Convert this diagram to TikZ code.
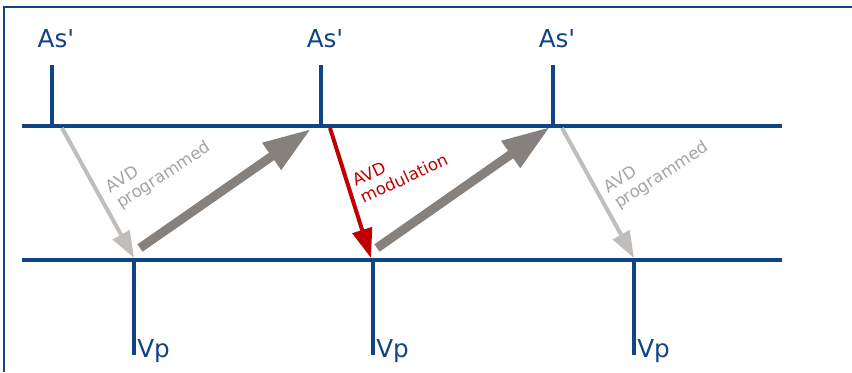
\documentclass[tikz,border=0pt]{standalone}
\usepackage{fontspec}
\setmainfont{DejaVu Sans}[Ligatures=TeXOff]
\usetikzlibrary{arrows.meta,positioning,calc}
\definecolor{lineblue}{RGB}{16,68,132}
\definecolor{progray}{RGB}{192,189,186}
\definecolor{condgray}{RGB}{134,129,125}
\definecolor{modred}{RGB}{192,0,0}
\definecolor{txtgray}{RGB}{166,164,162}

\begin{document}
\begin{tikzpicture}[x=0.75pt,y=-0.75pt,
  track/.style={draw=lineblue,line width=2.3pt},
  evt/.style={text=lineblue,inner sep=0pt,font=\fontsize{18.5}{20}\selectfont},
  prog/.style={draw=progray,line width=3pt,-{Triangle[length=20pt,width=14pt]}},
  cond/.style={draw=condgray,line width=6.75pt,-{Triangle[length=36pt,width=23pt]}},
  modu/.style={draw=modred,line width=3pt,-{Triangle[length=22pt,width=15pt]}},
  lbl/.style={align=left,inner sep=0pt,font=\fontsize{12.5}{14}\selectfont}]
  \useasboundingbox (0,0) rectangle (852,372);
  \draw[lineblue,line width=1.5pt] (852,6.5) -- (4,6.5) -- (4,372);
  % atrial and ventricular time lines
  \draw[track] (22,126) -- (782,126);
  \draw[track] (22,260) -- (782,260);
  \foreach \n/\x in {1/52,2/321,3/553} {
    \coordinate (as\n) at (\x,126);
    \draw[track] (as\n) -- ++(0,-61) coordinate (ast\n);
    \node[evt,above=12.5pt of ast\n,xshift=3pt] (asl\n) {As'};
  }
  \foreach \n/\x in {1/134,2/373,3/634} {
    \coordinate (vp\n) at (\x,260);
    \draw[track] (vp\n) -- ++(0,95) coordinate (vpb\n);
    \node[evt,anchor=base west] (vpl\n) at ($(vpb\n)+(3,2)$) {Vp};
  }
  % AV delays and conduction
  \draw[prog] ($(as1)+(10,2)$) -- ($(vp1)+(0,-2)$);
  \draw[prog] ($(as3)+(9,2)$) -- ($(vp3)+(0,-2)$);
  \draw[modu] ($(as2)+(9,2)$) -- ($(vp2)+(-2,-2)$);
  \draw[cond] ($(vp1)+(6,-12)$) -- ($(as2)+(-10,3)$);
  \draw[cond] ($(vp2)+(4,-12)$) -- ($(as3)+(-3,1)$);
  \node[lbl,text=txtgray,rotate=33] (avd1) at (159,168) {AVD\\programmed};
  \node[lbl,text=modred,rotate=25] (avd2) at (400,170) {AVD\\modulation};
  \node[lbl,text=txtgray,rotate=33] (avd3) at (657,168) {AVD\\programmed};
\end{tikzpicture}
\end{document}
